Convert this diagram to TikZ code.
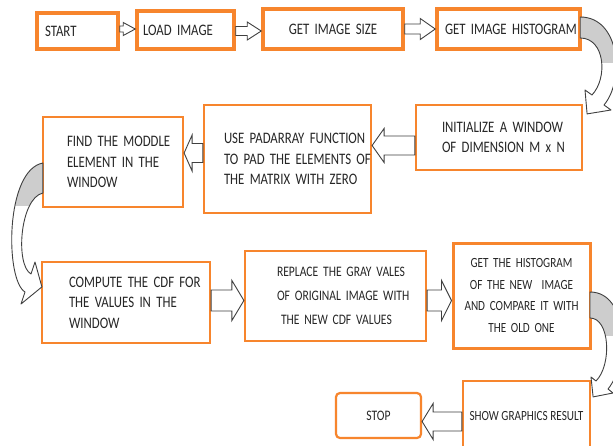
\documentclass[tikz,border=0pt]{standalone}
\usepackage{fontspec}
\setmainfont{Carlito}[FakeStretch=0.8]
\usetikzlibrary{calc}
\definecolor{boxorange}{RGB}{247,133,45}
\definecolor{foldgray}{RGB}{205,205,205}
\tikzset{
  box/.style={draw=boxorange, fill=white, line width=2.2pt, inner ysep=0pt,
              font=\fontsize{16}{20.5}\selectfont, text=black!85},
  topbox/.style={box, line width=3.5pt},
  barrow/.style={draw=black!75, fill=white, line width=0.9pt, line join=miter},
  carrow/.style={draw=black!75, line width=0.9pt, line join=round},
}
\newcommand\tline[1]{\mbox{#1}}
% #1 start, #2 end (x only), #3 shaft half, #4 head half, #5 head length (signed)
\newcommand\blockarrow[5]{%
  \draw[barrow] let \p1=(#1), \p2=(#2) in
   (\x1,{\y1+#3}) -- ({\x2-(#5)},{\y1+#3}) -- ({\x2-(#5)},{\y1+#4})
   -- (\x2,\y1) -- ({\x2-(#5)},{\y1-#4}) -- ({\x2-(#5)},{\y1-#3})
   -- (\x1,{\y1-#3}) -- cycle;}
% #1 closed path, #2 clip rectangle for the folded (grey) part
\newcommand\curvedarrow[2]{%
  \fill[white] #1;
  \begin{scope}\clip #2; \fill[foldgray] #1; \end{scope}
  \draw[carrow] #1;}
\begin{document}
\begin{tikzpicture}[x=1pt, y=-1pt]
\useasboundingbox (0,0) rectangle (613,445);
\clip (0,0) rectangle (613,445);
\fill[white] (0,0) rectangle (613,445);

% top row
\node[topbox, minimum height=36pt, text width=65pt, inner xsep=8pt, align=left] (START) at (77.5,31) {\tline{START}};
\node[topbox, minimum height=38pt, text width=85pt, inner xsep=6pt, align=left] (LOAD) at (185.5,30) {\tline{LOAD IMAGE}};
\node[topbox, minimum height=40pt, text width=120pt, inner xsep=10pt, align=center] (SIZE) at (333,29) {\tline{GET IMAGE SIZE}};
\node[topbox, minimum height=40pt, text width=127pt, inner xsep=8pt, align=left] (HIST) at (508.5,29) {\tline{GET IMAGE HISTOGRAM}};

% second row
\node[box, minimum height=90pt, text width=92pt, inner xsep=24pt, align=left] (FIND) at (113,162)
  {\tline{FIND THE MODDLE}\\\tline{ELEMENT IN THE}\\\tline{WINDOW}};
\node[box, minimum height=108pt, text width=127pt, inner xsep=20pt, align=left] (PAD) at (287.5,159)
  {\tline{USE PADARRAY FUNCTION}\\\tline{TO PAD THE ELEMENTS OF}\\\tline{THE MATRIX WITH ZERO}};
\node[box, minimum height=65pt, text width=114pt, inner xsep=26pt, align=left] (INIT) at (499,137.5)
  {\tline{INITIALIZE A WINDOW}\\\tline{OF DIMENSION M x N}};

% third row
\node[box, minimum height=81pt, text width=114pt, inner xsep=27pt, align=left] (CDF) at (126,302.5)
  {\tline{COMPUTE THE CDF FOR}\\\tline{THE VALUES IN THE}\\\tline{WINDOW}};
\node[box, minimum height=90pt, text width=117pt, inner xsep=32pt, align=left,
      font=\fontsize{14.5}{24}\selectfont] (REPL) at (335.5,296)
  {\tline{REPLACE THE GRAY VALES}\\\tline{OF ORIGINAL IMAGE WITH}\\\tline{\hspace*{4pt}THE NEW CDF VALUES}};
\node[box, line width=3pt, minimum height=105pt, text width=121pt, inner xsep=8pt, align=center,
      font=\fontsize{14}{21.5}\selectfont] (NEWH) at (521.5,295.5)
  {\tline{GET THE HISTOGRAM}\\\tline{OF THE NEW~~IMAGE}\\\tline{AND COMPARE IT WITH}\\\tline{THE OLD ONE}};

% bottom row
\node[box, rounded corners=4pt, minimum width=85pt, minimum height=45pt,
      font=\fontsize{14.5}{17}\selectfont] (STOP) at (378.5,415.5) {STOP};
\node[box, minimum width=127pt, minimum height=70pt,
      font=\fontsize{14}{17}\selectfont] (SHOW) at (526.5,416) {SHOW GRAPHICS RESULT};

% straight block arrows
\blockarrow{[yshift=2pt]START.east}{LOAD.west}{3pt}{6.5pt}{12pt}
\blockarrow{[yshift=-1pt]LOAD.east}{SIZE.west}{4.5pt}{9pt}{14pt}
\blockarrow{SIZE.east}{HIST.west}{5pt}{10.5pt}{15pt}
\blockarrow{[yshift=-8pt]INIT.west}{PAD.east}{9.5pt}{17pt}{-12pt}
\blockarrow{[yshift=6pt]PAD.west}{FIND.east}{9.5pt}{18pt}{-8pt}
\blockarrow{[yshift=2pt]CDF.east}{REPL.west}{10.5pt}{20pt}{12pt}
\blockarrow{[yshift=-4.5pt]REPL.east}{NEWH.west}{10.5pt}{20pt}{10pt}
\blockarrow{[yshift=-5.5pt]SHOW.west}{STOP.east}{9.5pt}{18pt}{-11pt}

% curved arrows
\coordinate (a1) at ($(HIST.east)+(-1.5,-12)$);
\coordinate (a2) at ($(HIST.east)+(-1.5,9)$);
\coordinate (a3) at ($(INIT.north east)+(4,10)$);
\curvedarrow{(a1) .. controls (620,17) and (625,80) .. (604,105) -- (611,110) -- (a3)
  -- (585,90) -- (592,95) .. controls (608,78) and (605,38) .. (a2) -- cycle}
  {(560,0) rectangle (640,62)}

\coordinate (b1) at ($(FIND.west)+(1,1)$);
\coordinate (b2) at ($(FIND.west)+(1,31)$);
\coordinate (b3) at ($(CDF.north west)+(1,26)$);
\curvedarrow{(b1) .. controls (5,170) and (5,280) .. (25,292) -- (21,304) -- (b3)
  -- (35,262) -- (31,274) .. controls (15,265) and (20,198) .. (b2) -- cycle}
  {(0,150) rectangle (44,205)}

\coordinate (c1) at ($(NEWH.east)+(-1.5,-3.5)$);
\coordinate (c2) at ($(NEWH.east)+(-1.5,22.5)$);
\coordinate (c3) at ($(SHOW.north east)+(2,17)$);
\curvedarrow{(c1) .. controls (628,292) and (630,362) .. (608,389) -- (613,393) -- (c3)
  -- (591,377) -- (596,381) .. controls (612,365) and (610,318) .. (c2) -- cycle}
  {(580,280) rectangle (640,335)}
\end{tikzpicture}
\end{document}
